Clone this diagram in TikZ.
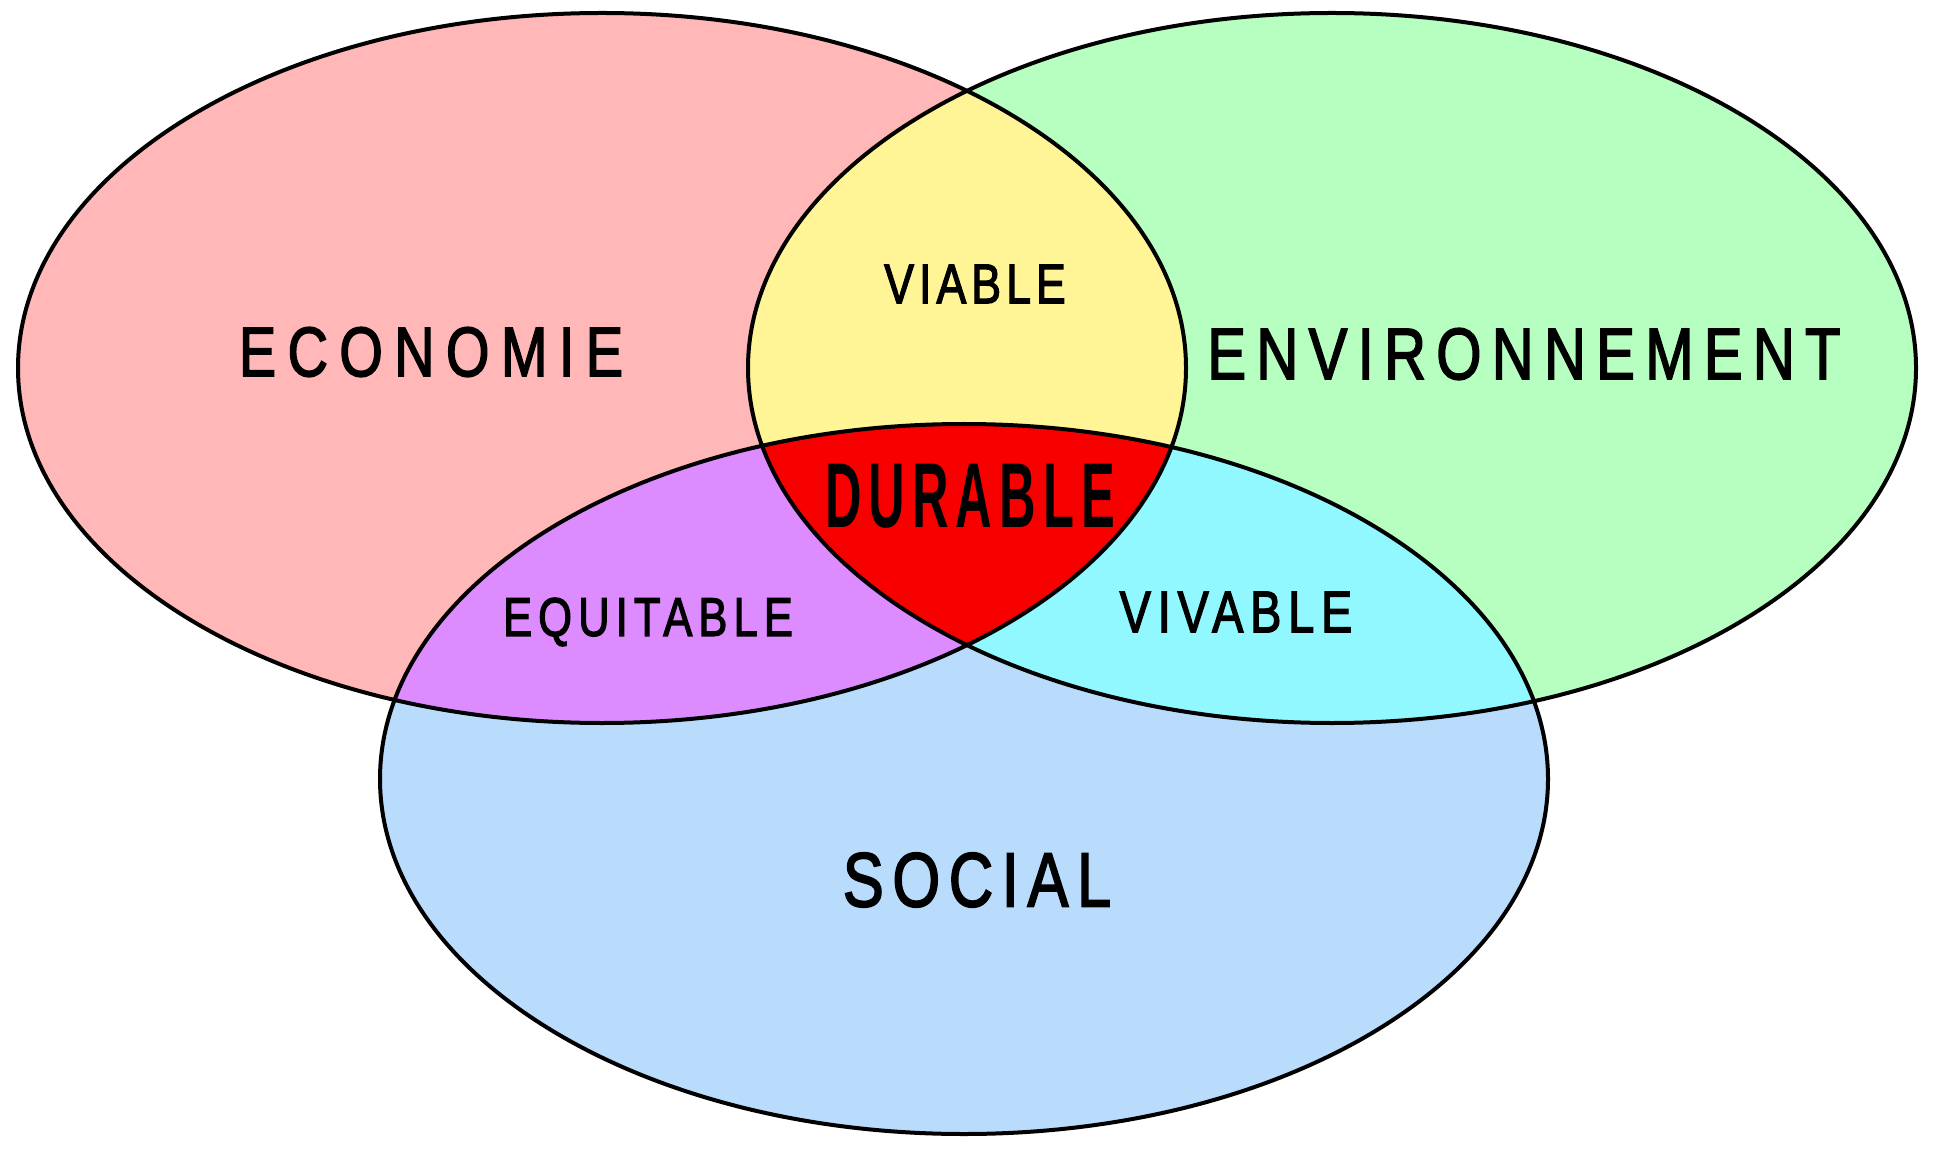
\documentclass[tikz,border=0pt]{standalone}
\usepackage{fontspec}
\setmainfont{Liberation Sans}
\definecolor{ecopink}{RGB}{255,183,183}
\definecolor{envgreen}{RGB}{183,255,193}
\definecolor{socblue}{RGB}{185,220,253}
\definecolor{viayellow}{RGB}{255,245,150}
\definecolor{equpurple}{RGB}{221,140,255}
\definecolor{vivcyan}{RGB}{145,248,255}
\definecolor{durred}{RGB}{248,0,0}
\tikzset{
  er/.style={x radius=292pt, y radius=177.5pt},
  outline/.style={draw=black, line width=2pt},
  lbl/.style={inner sep=0pt, text=black, xscale=0.8},
}
\newcommand{\lblfont}[2]{\fontsize{#1}{#1}\selectfont\addfontfeature{LetterSpace=#2,FakeBold=2.5}}
\newcommand{\durfont}[2]{\fontsize{#1}{#1}\bfseries\selectfont\addfontfeature{LetterSpace=#2}}
\begin{document}
\begin{tikzpicture}[x=0.5pt,y=-0.5pt]
\useasboundingbox (0,0) rectangle (1947,1154);
\coordinate (L) at (602,368);
\coordinate (R) at (1332,368);
\coordinate (S) at (964,779);
% base fills
\fill[ecopink] (L) ellipse [er];
\fill[envgreen] (R) ellipse [er];
\fill[socblue] (S) ellipse [er];
% pairwise overlaps
\begin{scope}
  \clip (L) ellipse [er];
  \fill[viayellow] (R) ellipse [er];
\end{scope}
\begin{scope}
  \clip (L) ellipse [er];
  \fill[equpurple] (S) ellipse [er];
\end{scope}
\begin{scope}
  \clip (R) ellipse [er];
  \fill[vivcyan] (S) ellipse [er];
\end{scope}
% triple overlap
\begin{scope}
  \clip (L) ellipse [er];
  \clip (R) ellipse [er];
  \fill[durred] (S) ellipse [er];
\end{scope}
% outlines
\draw[outline] (L) ellipse [er];
\draw[outline] (R) ellipse [er];
\draw[outline] (S) ellipse [er];
% labels
\node[lbl, font=\lblfont{34.9pt}{20.5}] (eco) at (431,352) {ECONOMIE};
\node[lbl, font=\lblfont{36.3pt}{17.7}] (env) at (1524,354) {ENVIRONNEMENT};
\node[lbl, font=\lblfont{27.9pt}{11.3}] (via) at (975,284) {VIABLE};
\node[lbl, xscale=0.6875, font=\durfont{46pt}{14}] (dur) at (970,496) {DURABLE};
\node[lbl, font=\lblfont{27.2pt}{14}] (equ) at (648,622) {EQUITABLE};
\node[lbl, font=\lblfont{29.3pt}{14.5}] (viv) at (1236,612) {VIVABLE};
\node[lbl, font=\lblfont{38.4pt}{14}] (soc) at (977,880) {SOCIAL};
\end{tikzpicture}
\end{document}
